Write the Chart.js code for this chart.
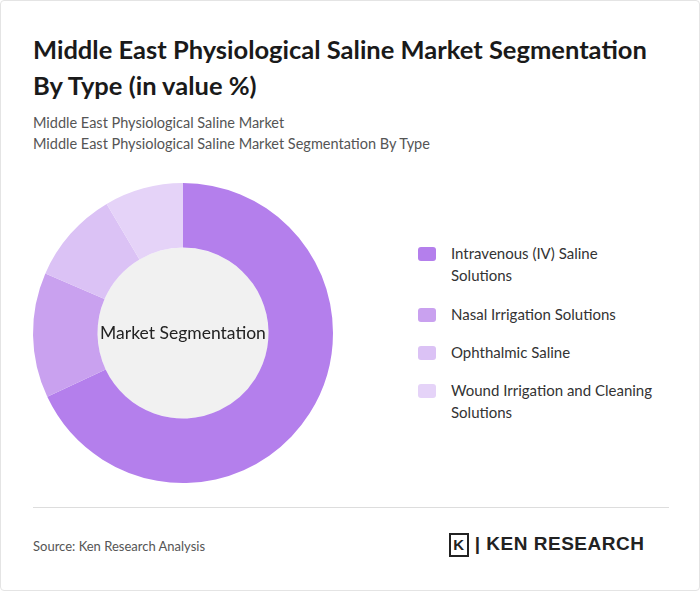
<!DOCTYPE html>
<html><head><meta charset="utf-8">
<script src="https://cdn.jsdelivr.net/npm/chart.js"></script>
<style>
body{margin:0;background:#fff;font-family:Lato,"Open Sans",sans-serif;}
#wrap{position:absolute;left:0;top:0;width:698px;height:589px;border:1px solid #e4e4e4;border-radius:4px;}
h1{position:absolute;left:32px;top:30px;margin:0;font-size:25.5px;line-height:36px;color:#1a1a1a;font-weight:700;width:635px;}
.sub{position:absolute;left:32px;font-size:14.5px;color:#555;}
#cv{position:absolute;left:30px;top:180px;width:304px;height:304px;}
.leg{position:absolute;left:418px;font-size:15px;color:#333;line-height:22px;}
.sw{position:absolute;left:-1px;width:18px;height:14px;border-radius:3px;}
.lt{position:absolute;left:32px;white-space:nowrap;}
#hr{position:absolute;left:32px;top:506px;width:636px;height:1px;background:#ddd;}
#src{position:absolute;left:32px;top:537px;font-size:13px;color:#555;}
#logo{position:absolute;left:448px;top:532px;font-size:19px;font-weight:700;color:#222;font-family:"Liberation Sans",sans-serif;letter-spacing:0.5px;}
</style></head><body>
<div id="wrap">
<h1>Middle East Physiological Saline Market Segmentation By Type (in value %)</h1>
<div class="sub" style="top:113px">Middle East Physiological Saline Market</div>
<div class="sub" style="top:134px">Middle East Physiological Saline Market Segmentation By Type</div>
<div id="cv"><canvas id="c"></canvas></div>
<div id="legend"></div>
<div id="hr"></div>
<div id="src">Source: Ken Research Analysis</div>
<div id="logo"><span style="display:inline-block;border:2px solid #222;width:16px;height:20px;text-align:center;font-size:15px;line-height:20px;vertical-align:middle">K</span> | KEN RESEARCH</div>
</div>
<script>
const categories=["Intravenous (IV) Saline Solutions","Nasal Irrigation Solutions","Ophthalmic Saline","Wound Irrigation and Cleaning Solutions"];
const values=[68,13.5,10,8.5];
const colors=["#b47fec","#c9a1ef","#dbc2f5","#e5d3f8"];
const legTop=[241,302,340,378];
const legLines=[["Intravenous (IV) Saline","Solutions"],["Nasal Irrigation Solutions"],["Ophthalmic Saline"],["Wound Irrigation and Cleaning","Solutions"]];
const L=document.getElementById('legend');
categories.forEach((c,i)=>{const d=document.createElement('div');d.className='leg';d.style.top=legTop[i]+'px';
d.innerHTML='<div class="sw" style="top:5px;background:'+colors[i]+'"></div><div class="lt">'+legLines[i].join('<br>')+'</div>';L.appendChild(d);});
const centerPlugin={id:'ctr',beforeDatasetsDraw(ch){const m=ch.getDatasetMeta(0).data[0];const x=ch.ctx;x.save();x.beginPath();x.arc(m.x,m.y,m.innerRadius,0,Math.PI*2);x.fillStyle='#f1f1f1';x.fill();
x.fillStyle='#222';x.font='17.5px Lato';x.textAlign='center';x.textBaseline='middle';x.fillText('Market Segmentation',m.x,m.y);x.restore();}};
new Chart(document.getElementById('c'),{type:'doughnut',data:{labels:categories,datasets:[{data:values,backgroundColor:colors,borderWidth:0}]},
options:{responsive:true,maintainAspectRatio:false,cutout:'57%',animation:false,layout:{padding:2},plugins:{legend:{display:false},tooltip:{enabled:false}}},plugins:[centerPlugin]});
</script></body></html>
